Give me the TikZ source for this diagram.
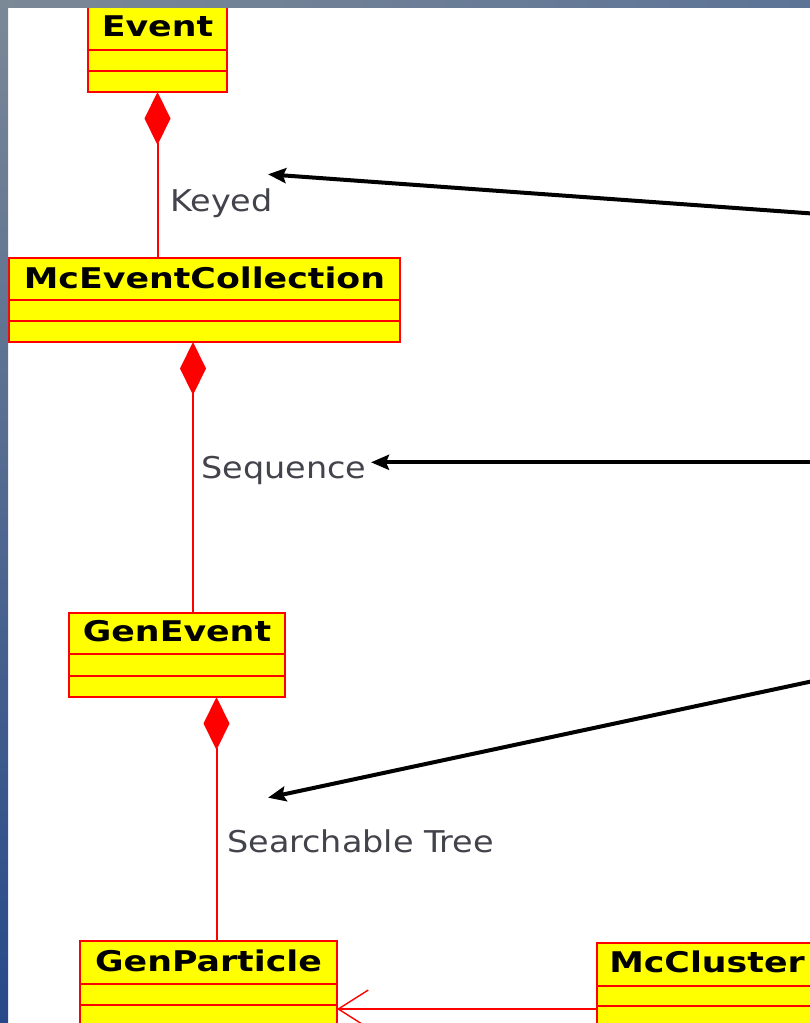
\documentclass[tikz,border=0pt]{standalone}
\usepackage{fontspec}
\usetikzlibrary{arrows.meta}
\newfontfamily\clsfont[FakeStretch=1.22]{DejaVu Sans}
\newfontfamily\lblfont[FakeStretch=1.115]{DejaVu Sans}
\definecolor{umlyellow}{HTML}{FFFF00}
\definecolor{umlred}{HTML}{FF0000}
\definecolor{lblgray}{HTML}{43434C}
\definecolor{stripgray}{HTML}{7B8896}
\definecolor{stripblue}{HTML}{5D7497}
\definecolor{stripdark}{HTML}{27498A}

\tikzset{
  classbox/.style={draw=umlred, fill=umlyellow, line width=2.2pt, inner sep=0pt, outer sep=0pt},
  classline/.style={draw=umlred, line width=2.2pt},
  clsname/.style={inner sep=0pt, anchor=base, text=black, font=\clsfont\bfseries\fontsize{28.5}{30}\selectfont},
  rolelabel/.style={inner sep=0pt, anchor=base west, text=lblgray, font=\lblfont\fontsize{30}{32}\selectfont},
  composition/.style={draw=umlred, line width=2pt, {Diamond[length=53pt,width=26pt,fill=umlred]}-},
  navigable/.style={draw=umlred, line width=1.6pt, -{Straight Barb[length=30pt,width=38pt,line width=1.4pt]}},
  pointer/.style={draw=black, line width=4pt, -{Stealth[length=18pt,width=15pt,inset=3pt]}}
}

% #1 name, #2 title, #3 left, #4 top, #5 right, #6 bottom,
% #7 first divider, #8 second divider, #9 title baseline
\newcommand\umlclass[9]{%
  \node[classbox, anchor=north west,
        minimum width={(#5-#3)*1pt}, minimum height={(#6-#4)*1pt}] (#1) at (#3,#4) {};
  \draw[classline] (#1.west |- 0,#7) -- (#1.east |- 0,#7);
  \draw[classline] (#1.west |- 0,#8) -- (#1.east |- 0,#8);
  \node[clsname] (#1-title) at ({(#3+#5)/2},#9) {#2};
}

\begin{document}
\begin{tikzpicture}[x=1pt, y=-1pt]
  \useasboundingbox (0,0) rectangle (810,1023);
  \fill[white] (0,0) rectangle (810,1023);

  % classes
  \umlclass{evt}{Event}{88}{7}{227}{92}{50}{71}{36.7}
  \umlclass{mec}{McEventCollection}{9}{258}{400}{342}{300}{321}{288.3}
  \umlclass{gen}{GenEvent}{69}{613}{285}{697}{654}{676}{641.7}
  \umlclass{gp}{GenParticle}{80}{941}{337}{1026}{984}{1005}{971}
  \umlclass{mcc}{McCluster}{597}{943}{817}{1028}{986}{1006}{972.7}

  % compositions
  \draw[composition] (evt.south) -- (evt.south |- mec.north);
  \draw[composition] ([xshift=-11.5pt]mec.south) -- ([xshift=-11.5pt]mec.south |- gen.north);
  \draw[composition] ([xshift=39.5pt]gen.south) -- ([xshift=39.5pt]gen.south |- gp.north);

  % navigable association
  \draw[navigable] (mcc.west |- 0,1009) -- (gp.east |- 0,1009);

  % role labels
  \node[rolelabel] (keyed) at (170,211) {Keyed};
  \node[rolelabel] (seq) at (201,478) {Sequence};
  \node[rolelabel] (tree) at (227,852) {Searchable Tree};

  % pointers coming in from the right
  \coordinate (p1s) at (812,213.5);
  \coordinate (p1e) at (268,174.3);
  \coordinate (p2s) at (812,462.3);
  \coordinate (p2e) at (371,462.3);
  \coordinate (p3s) at (812,681.3);
  \coordinate (p3e) at (268,797.7);
  \draw[pointer] (p1s) -- (p1e);
  \draw[pointer] (p2s) -- (p2e);
  \draw[pointer] (p3s) -- (p3e);

  % frame strips
  \shade[top color=stripgray, bottom color=stripdark] (0,0) rectangle (8,1023);
  \shade[left color=stripgray, right color=stripblue] (0,0) rectangle (810,7);
\end{tikzpicture}
\end{document}
